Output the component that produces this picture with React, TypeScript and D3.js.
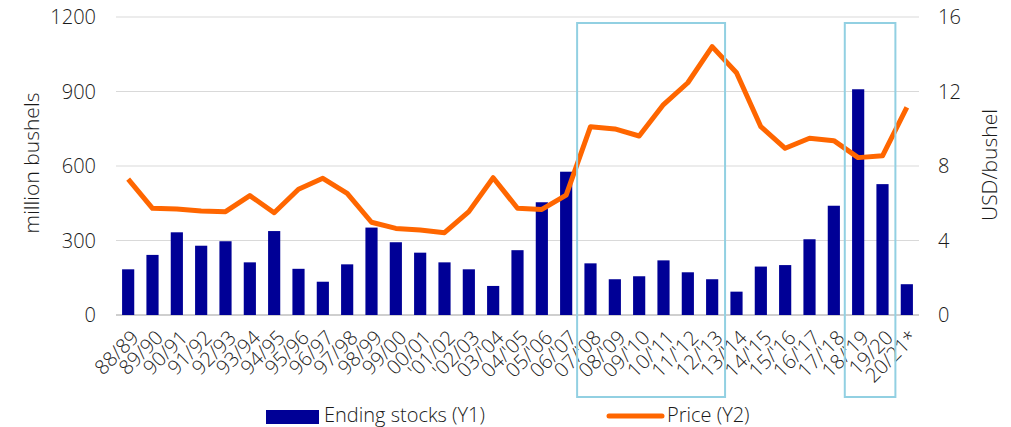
import React from 'react';
import { scaleBand, scaleLinear, line } from 'd3';

const seasons = [
  '88/89', '89/90', '90/91', '91/92', '92/93', '93/94', '94/95', '95/96', '96/97', '97/98',
  '98/99', '99/00', '00/01', "'01/02", "'02/03", "03/'04", "04/'05", "05/'06", "06/'07", "07/'08",
  "08/'09", "09/'10", "10/'11", "11/'12", "12/'13", "13/'14", "14/'15", "15/'16", "16/'17", "17/'18",
  "18/'19", '19/20', '20/21*'
];

// million bushels
const endingStocks = [
  184, 242, 333, 279, 297, 212, 338, 186, 134, 204,
  352, 293, 251, 212, 184, 117, 261, 454, 577, 208,
  144, 156, 220, 172, 144, 94, 195, 201, 305, 440,
  909, 527, 124
];

// USD/bushel
const price = [
  7.3, 5.73, 5.69, 5.58, 5.55, 6.41, 5.49, 6.75, 7.34, 6.53,
  4.98, 4.65, 4.56, 4.42, 5.55, 7.37, 5.73, 5.67, 6.44, 10.11,
  9.99, 9.61, 11.3, 12.47, 14.41, 13.01, 10.11, 8.95, 9.49, 9.36,
  8.45, 8.55, 11.15
];

const leftTicks = [0, 300, 600, 900, 1200];
const rightTicks = [0, 4, 8, 12, 16];

// highlighted periods (first and last season in each box)
const highlights: [string, string][] = [
  ["07/'08", "12/'13"],
  ["18/'19", '19/20']
];

const W = 1011;
const H = 427;
const font = "'Open Sans', 'Segoe UI', sans-serif";
const ink = '#1a1a1a';

const App: React.FC = () => {
  const x = scaleBand<string>().domain(seasons).range([116, 919]).paddingInner(0.5).paddingOuter(0.25);
  const y1 = scaleLinear().domain([0, 1200]).range([315, 17]);
  const y2 = scaleLinear().domain([0, 16]).range([315, 17]);
  const cx = (s: string) => (x(s) as number) + x.bandwidth() / 2;

  const priceLine = line<number>()
    .x((_, i) => cx(seasons[i]))
    .y(d => y2(d));

  const step = x.step();

  return (
    <svg width={W} height={H} style={{ position: 'absolute', left: 0, top: 0 }} fontFamily={font}>
      <rect width={W} height={H} fill="#fff" />
      {leftTicks.map(t => (
        <line key={t} x1={116} x2={919} y1={y1(t)} y2={y1(t)}
          stroke={t === 0 ? '#bfbfbf' : '#d9d9d9'} strokeWidth={t === 0 ? 1.5 : 1} />
      ))}
      {leftTicks.map(t => (
        <text key={t} x={96} y={y1(t)} dy="0.35em" textAnchor="end" fontSize={20} fontWeight={300} fill={ink}>{t}</text>
      ))}
      {rightTicks.map(t => (
        <text key={t} x={938} y={y2(t)} dy="0.35em" textAnchor="start" fontSize={20} fontWeight={300} fill={ink}>{t}</text>
      ))}
      <text transform={`translate(39,163) rotate(-90)`} textAnchor="middle" fontSize={21} fontWeight={300} fill={ink}>million bushels</text>
      <text transform={`translate(997,165) rotate(-90)`} textAnchor="middle" fontSize={21} fontWeight={300} fill={ink}>USD/bushel</text>

      {seasons.map((s, i) => (
        <rect key={s} x={x(s)} y={y1(endingStocks[i])} width={x.bandwidth()}
          height={y1(0) - y1(endingStocks[i])} fill="#000096" />
      ))}

      <path d={priceLine(price) || ''} fill="none" stroke="#ff6600" strokeWidth={5} strokeLinejoin="round" />

      {seasons.map(s => (
        <text key={s} transform={`translate(${cx(s) + 2},329) rotate(-45)`} textAnchor="end"
          dy="0.7em" fontSize={20} fontWeight={300} fill={ink}>{s}</text>
      ))}

      {highlights.map(([a, b]) => {
        const x0 = (x(a) as number) - step * 0.3;
        const x1 = (x(b) as number) + x.bandwidth() + step * 0.28;
        return (
          <rect key={a} x={x0} y={23} width={x1 - x0} height={374} fill="none" stroke="#92d0e2" strokeWidth={2} />
        );
      })}

      <rect x={266} y={410} width={53} height={14} fill="#000096" />
      <text x={324} y={422} fontSize={20} fontWeight={300} fill={ink}>Ending stocks (Y1)</text>
      <line x1={609} x2={662} y1={416} y2={416} stroke="#ff6600" strokeWidth={5} strokeLinecap="round" />
      <text x={667} y={422} fontSize={20} fontWeight={300} fill={ink}>Price (Y2)</text>
    </svg>
  );
};

export default App;
